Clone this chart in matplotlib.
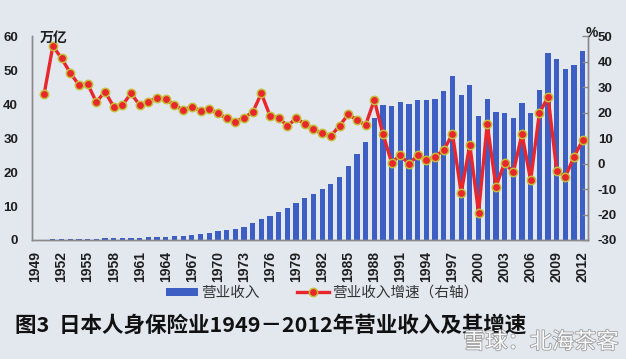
import matplotlib
matplotlib.use('Agg')
import matplotlib.pyplot as plt
import matplotlib.patheffects as pe
from matplotlib.lines import Line2D
from matplotlib.patches import Patch

plt.rcParams['font.family'] = ['Noto Sans CJK SC', 'DejaVu Sans']

# ---------------- data ----------------
years = list(range(1949, 2013))
revenue = [0.1, 0.1, 0.15, 0.2, 0.25, 0.3, 0.35, 0.4, 0.45, 0.5,
           0.55, 0.6, 0.7, 0.8, 0.9, 1.0, 1.2, 1.3, 1.5, 1.8,
           2.1, 2.6, 3.0, 3.3, 3.9, 5.0, 6.2, 7.1, 8.1, 9.3,
           10.8, 12.3, 13.6, 15.0, 16.6, 18.5, 21.9, 25.4, 28.9, 35.8,
           39.6, 39.4, 40.5, 40.0, 41.1, 41.3, 41.6, 43.7, 48.4, 42.8,
           45.7, 36.6, 41.6, 37.6, 37.5, 36.0, 40.3, 37.4, 44.2, 55.0,
           53.3, 50.2, 51.4, 55.7]

growth_years = list(range(1950, 2013))
growth = [27.3, 46.1, 41.3, 35.6, 30.8, 31.3, 24.1, 28.2, 22.3, 22.9,
          27.5, 22.9, 24.2, 25.8, 25.3, 22.9, 21.0, 22.3, 20.7, 21.4,
          19.7, 17.7, 16.4, 18.0, 20.1, 27.5, 18.7, 18.0, 14.7, 17.7,
          15.6, 13.4, 11.8, 10.8, 14.8, 19.3, 17.1, 15.1, 24.9, 11.6,
          0.3, 3.3, -0.3, 3.3, 1.4, 2.7, 5.3, 11.6, -11.5, 7.3,
          -19.3, 15.5, -9.1, 0.3, -3.5, 11.6, -6.5, 19.7, 26.2, -2.8,
          -5.2, 2.7, 9.2]

xtick_years = list(range(1949, 2013, 3))
left_ticks = [0, 10, 20, 30, 40, 50, 60]
right_ticks = [-30, -20, -10, 0, 10, 20, 30, 40, 50]

bar_label = '营业收入'
line_label = '营业收入增速（右轴）'
title = '图3  日本人身保险业1949－2012年营业收入及其增速'

# ---------------- style ----------------
bg = '#e3e7ee'
bar_color = '#3d5ec2'
line_color = '#e8262b'
edge_marker = '#c4bf3a'
spine_color = '#8a8a8a'
text_color = '#1e1e1e'
num_font = 'Liberation Sans'

fig = plt.figure(figsize=(6.26, 3.59), dpi=100)
fig.patch.set_facecolor(bg)

ax = fig.add_axes([0.0511, 0.3315, 0.8882, 0.568])
ax.set_facecolor('none')
ax.bar(years, revenue, width=0.6, color=bar_color, zorder=2)
ax.set_xlim(1948.6, 2012.6)
ax.set_ylim(0, 60)
ax.set_yticks(left_ticks)
ax.set_xticks(xtick_years)
ax.set_xticklabels([str(y) for y in xtick_years], rotation=90,
                   fontfamily=num_font, fontweight='bold',
                   fontsize=10, color=text_color)
ax.set_yticklabels([str(v) for v in left_ticks], fontfamily=num_font,
                   fontweight='bold', fontsize=9.5, color=text_color)
ax.tick_params(axis='x', length=0, pad=8)
ax.tick_params(axis='y', length=0, pad=10)
ax.spines['top'].set_visible(False)
for s in ['left', 'bottom', 'right']:
    ax.spines[s].set_color(spine_color)
    ax.spines[s].set_linewidth(1.0)

ax2 = ax.twinx()
ax2.set_facecolor('none')
ax2.plot(growth_years, growth, color=line_color, lw=2.4,
         marker='o', markersize=6, markerfacecolor=line_color,
         markeredgecolor=edge_marker, markeredgewidth=1.1, zorder=3)
ax2.set_ylim(-30, 50)
ax2.set_yticks(right_ticks)
ax2.set_yticklabels([str(v) for v in right_ticks], fontfamily=num_font,
                    fontweight='bold', fontsize=9.5, color=text_color)
ax2.tick_params(axis='y', direction='in', length=4, width=1,
                color=spine_color, pad=7)
ax2.spines['top'].set_visible(False)
for s in ['left', 'bottom', 'right']:
    ax2.spines[s].set_color(spine_color)
    ax2.spines[s].set_linewidth(1.0)

# unit labels
fig.text(54 / 626, 1 - 38 / 359, '万亿', ha='center', va='center',
         fontsize=10, fontweight='bold', color=text_color)
fig.text(592 / 626, 1 - 33 / 359, '%', ha='center', va='center',
         fontsize=10, fontweight='bold', color=text_color,
         fontfamily=num_font)

# legend
handles = [Patch(facecolor=bar_color, edgecolor='none'),
           Line2D([0], [0], color=line_color, lw=2.4, marker='o',
                  markersize=6, markerfacecolor=line_color,
                  markeredgecolor=edge_marker, markeredgewidth=1.1)]
leg = fig.legend(handles, [bar_label, line_label], loc='center',
                 bbox_to_anchor=(322 / 626, 1 - 293 / 359), ncol=2,
                 frameon=False, fontsize=10.5, handlelength=2.2,
                 handleheight=0.5, handletextpad=0.2, columnspacing=2.6)
for t in leg.get_texts():
    t.set_color('#333333')

# title
fig.text(15 / 626, 1 - 325 / 359, title, ha='left', va='center',
         fontsize=15.5, fontweight='bold', color='#111111')

# watermark
fig.text(541 / 626, 1 - 342 / 359, '雪球：北海茶客', ha='center', va='center',
         fontsize=16, color='white', alpha=0.95,
         path_effects=[pe.withStroke(linewidth=1.2, foreground='#9a9a9a')])

fig.savefig('out.png', dpi=100, facecolor=bg)
